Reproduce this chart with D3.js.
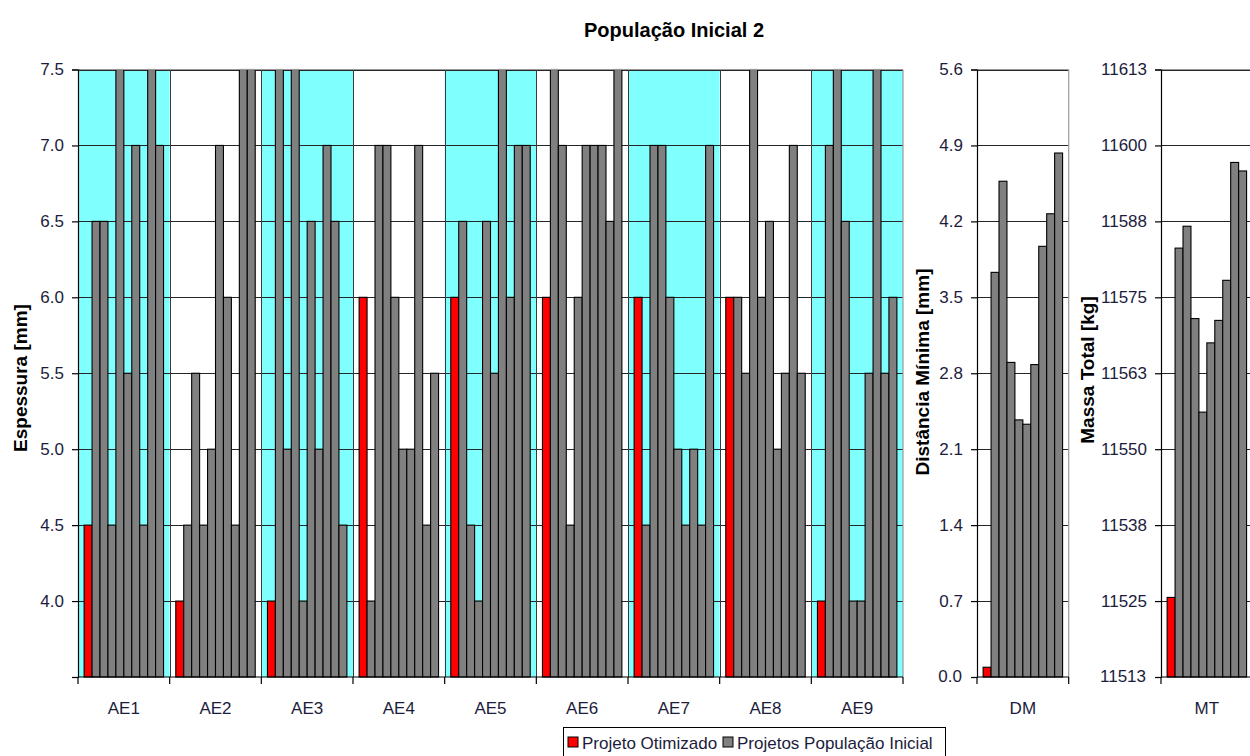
<!DOCTYPE html>
<html><head><meta charset="utf-8">
<script src="https://cdn.jsdelivr.net/npm/d3@7/dist/d3.min.js"></script>
<style>
html,body{margin:0;padding:0;background:#fff;}
text{font-family:"Liberation Sans",Arial,sans-serif;}
</style></head>
<body><svg id="chart" width="1250" height="756"></svg>
<script>
// ---------- DATA ----------
const categories = ["AE1","AE2","AE3","AE4","AE5","AE6","AE7","AE8","AE9"];
const shaded = [1,0,1,0,1,0,1,0,1];
const optimizedAE = [4.5,4.0,4.0,6.0,6.0,6.0,6.0,6.0,4.0];
// initial population designs (9 per category)
const popAE1 = [6.5,6.5,4.5,7.5,5.5,7.0,4.5,7.5,7.0];
const popAE2 = [4.5,5.5,4.5,5.0,7.0,6.0,4.5,7.5,7.5];
const popAE3 = [7.5,5.0,7.5,4.0,6.5,5.0,7.0,6.5,4.5];
const popAE4 = [4.0,7.0,7.0,6.0,5.0,5.0,7.0,4.5,5.5];
const popAE5 = [6.5,4.5,4.0,6.5,5.5,7.5,6.0,7.0,7.0];
const popAE6 = [7.5,7.0,4.5,6.0,7.0,7.0,7.0,6.5,7.5];
const popAE7 = [4.5,7.0,7.0,6.0,5.0,4.5,5.0,4.5,7.0];
const popAE8 = [6.0,5.5,7.5,6.0,6.5,5.0,5.5,7.0,5.5];
const popAE9 = [7.0,7.5,6.5,4.0,4.0,5.5,7.5,5.5,6.0];
const popAE = [popAE1,popAE2,popAE3,popAE4,popAE5,popAE6,popAE7,popAE8,popAE9];

const dmCategory = ["DM"];
const optimizedDM = 0.09;
const popDM = [3.73,4.57,2.90,2.37,2.33,2.88,3.97,4.27,4.83];

const mtCategory = ["MT"];
const optimizedMT = 11525.6;
const popMT = [11583.1,11586.7,11571.5,11556.1,11567.5,11571.2,11577.8,11597.2,11595.8];

const mainTicks = [4.0,4.5,5.0,5.5,6.0,6.5,7.0,7.5];
const mainTickLabels = ["4.0","4.5","5.0","5.5","6.0","6.5","7.0","7.5"];
const dmTicks = [0,0.7,1.4,2.1,2.8,3.5,4.2,4.9,5.6];
const dmTickLabels = ["0.0","0.7","1.4","2.1","2.8","3.5","4.2","4.9","5.6"];
const mtTicks = [11512.5,11525,11537.5,11550,11562.5,11575,11587.5,11600,11612.5];
const mtTickLabels = ["11513","11525","11538","11550","11563","11575","11588","11600","11613"];

const seriesNames = ["Projeto Otimizado","Projetos População Inicial"];
const colors = {opt:"#FF0000", pop:"#808080", shade:"#80FFFF"};

// ---------- LAYOUT ----------
const svg = d3.select("#chart");
const TOP = 69.5, BOT = 677;
const tickColor = "#1c1c3c";
const FS = 17;

function panel(cfg){
  const g = svg.append("g");
  const x = d3.scaleBand().domain(cfg.cats).range([cfg.x0, cfg.x1]);
  const y = d3.scaleLinear().domain(cfg.domain).range([BOT, TOP]);
  const inner = d3.scaleBand().domain(d3.range(10)).range([0, x.bandwidth()]).paddingInner(0).paddingOuter(0.77);
  // shading
  if (cfg.shaded){
    g.selectAll("rect.shade").data(cfg.cats.filter((c,i)=>cfg.shaded[i])).join("rect")
      .attr("x", d=>x(d)).attr("y", TOP).attr("width", x.bandwidth()).attr("height", BOT-TOP)
      .attr("fill", colors.shade);
  }
  // gridlines
  g.selectAll("line.grid").data(cfg.ticks).join("line")
    .attr("x1", cfg.x0).attr("x2", cfg.x1)
    .attr("y1", d=>Math.round(y(d))+0.5).attr("y2", d=>Math.round(y(d))+0.5)
    .attr("stroke", "#262626").attr("stroke-width", 1);
  // category boundaries
  if (cfg.cats.length>1){
    g.selectAll("line.vb").data(cfg.cats.slice(1)).join("line")
      .attr("x1", d=>Math.round(x(d))+0.5).attr("x2", d=>Math.round(x(d))+0.5)
      .attr("y1", TOP).attr("y2", BOT).attr("stroke", "#3a3a3a").attr("stroke-width", 1);
  }
  // bars
  const bars = [];
  cfg.cats.forEach((c,i)=>{
    bars.push({cat:c, k:0, v:cfg.opt[i], color:colors.opt});
    cfg.pop[i].forEach((v,j)=>bars.push({cat:c, k:j+1, v:v, color:colors.pop}));
  });
  g.selectAll("rect.bar").data(bars).join("rect")
    .attr("x", d=>x(d.cat)+inner(d.k))
    .attr("width", inner.bandwidth())
    .attr("y", d=>y(d.v))
    .attr("height", d=>BOT-y(d.v))
    .attr("fill", d=>d.color).attr("stroke", "#000").attr("stroke-width", 1.1);
  // plot border top/right
  g.append("line").attr("x1", cfg.x0).attr("x2", cfg.x1).attr("y1", TOP).attr("y2", TOP).attr("stroke", "#9a9a9a").attr("stroke-width",1.2);
  g.append("line").attr("x1", cfg.x1).attr("x2", cfg.x1).attr("y1", TOP).attr("y2", BOT).attr("stroke", "#9a9a9a").attr("stroke-width",1.2);
  // axes
  const yAxis = d3.axisLeft(y).tickValues([cfg.domain[0]].concat(cfg.ticks)).tickSize(6).tickPadding(8)
    .tickFormat(d=>{const i=cfg.ticks.indexOf(d); return i<0?"":cfg.tickLabels[i];});
  const ya = g.append("g").attr("transform", `translate(${cfg.x0},0)`).call(yAxis);
  ya.select(".domain").attr("stroke","#000").attr("stroke-width",1.2);
  ya.selectAll(".tick line").attr("stroke","#000").attr("stroke-width",1.2);
  ya.selectAll(".tick text").attr("font-size", FS).attr("fill", tickColor).attr("font-family","Liberation Sans, Arial, sans-serif");
  // bottom axis
  g.append("line").attr("x1", cfg.x0).attr("x2", cfg.x1).attr("y1", BOT).attr("y2", BOT).attr("stroke","#000").attr("stroke-width",1.2);
  const bounds = cfg.cats.map(c=>x(c)).concat([cfg.x1]);
  g.selectAll("line.xt").data(bounds).join("line")
    .attr("x1", d=>d).attr("x2", d=>d).attr("y1", BOT).attr("y2", BOT+7).attr("stroke","#000").attr("stroke-width",1.2);
  g.selectAll("text.cat").data(cfg.cats).join("text")
    .attr("x", d=>x(d)+x.bandwidth()/2).attr("y", 714)
    .attr("text-anchor","middle").attr("font-size", FS).attr("fill", tickColor).text(d=>d);
  // axis title
  g.append("text").attr("transform", `translate(${cfg.titleX},${cfg.titleY}) rotate(-90)`)
    .attr("text-anchor","middle").attr("font-size", 19).attr("font-weight","bold").attr("fill","#000").text(cfg.title);
}

panel({cats:categories, shaded:shaded, x0:78, x1:903, domain:[3.5,7.5], ticks:mainTicks, tickLabels:mainTickLabels,
  opt:optimizedAE, pop:popAE, title:"Espessura [mm]", titleX:27, titleY:378});
panel({cats:dmCategory, x0:977, x1:1068.7, domain:[0,5.6], ticks:dmTicks.slice(1), tickLabels:dmTickLabels.slice(1),
  opt:[optimizedDM], pop:[popDM], title:"Distância Mínima [mm]", titleX:929, titleY:372});
panel({cats:mtCategory, x0:1161, x1:1252.7, domain:[11512.5,11612.5], ticks:mtTicks.slice(1), tickLabels:mtTickLabels.slice(1),
  opt:[optimizedMT], pop:[popMT], title:"Massa Total [kg]", titleX:1094, titleY:370});

// bottom-most labels for DM/MT zero ticks
svg.append("text").attr("x", 962).attr("y", BOT).attr("dy","0.32em").attr("text-anchor","end").attr("font-size",FS).attr("fill",tickColor).text(dmTickLabels[0]);
svg.append("text").attr("x", 1146).attr("y", BOT).attr("dy","0.32em").attr("text-anchor","end").attr("font-size",FS).attr("fill",tickColor).text(mtTickLabels[0]);

// title
svg.append("text").attr("x", 674).attr("y", 37).attr("text-anchor","middle").attr("font-size",20).attr("font-weight","bold").attr("fill","#000")
  .text("População Inicial 2");

// legend
const lg = svg.append("g");
lg.append("rect").attr("x",563.5).attr("y",727.5).attr("width",382).attr("height",40).attr("fill","#fff").attr("stroke","#000").attr("stroke-width",1);
const legItems = [{name:seriesNames[0], color:colors.opt, x:568},{name:seriesNames[1], color:colors.pop, x:723}];
legItems.forEach(it=>{
  lg.append("rect").attr("x",it.x).attr("y",737).attr("width",10).attr("height",10).attr("fill",it.color).attr("stroke","#000").attr("stroke-width",1);
  lg.append("text").attr("x",it.x+14).attr("y",748.5).attr("font-size",FS).attr("fill",tickColor).text(it.name);
});
</script></body></html>
